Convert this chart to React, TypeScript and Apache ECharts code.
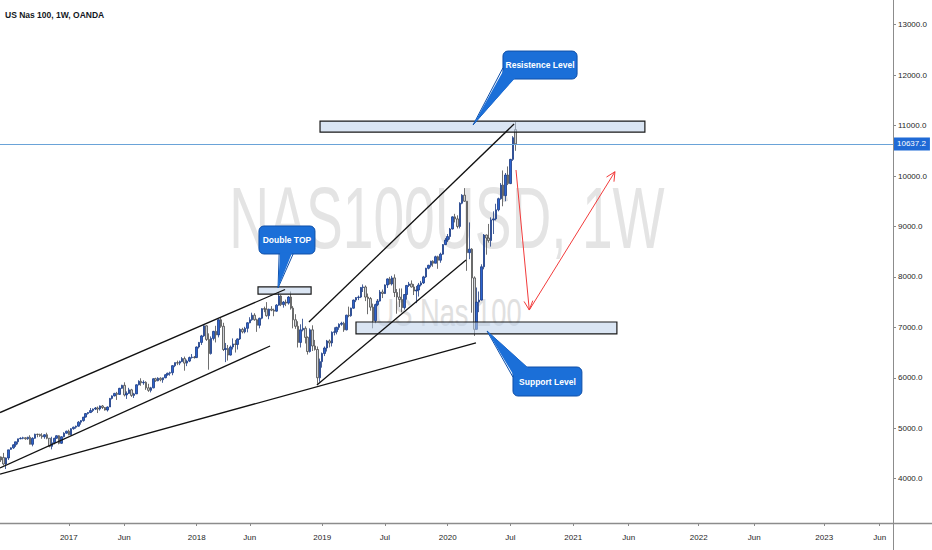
import { useEffect, useRef } from "react";
import * as echarts from "echarts";

// ---------- categories (weekly bars, Monday dates) ----------
const START_WEEK = Date.UTC(2016, 5, 13);
const WEEK_COUNT = 370;
const weekDates: string[] = Array.from({ length: WEEK_COUNT }, (_, i) =>
  new Date(START_WEEK + i * 7 * 86400000).toISOString().slice(0, 10)
);

// ---------- tick labels ----------
const tickWeekIndex = [28, 51, 81, 103, 133, 159, 185, 211, 237, 260, 289, 312, 341, 364];
const tickText = ["2017", "Jun", "2018", "Jun", "2019", "Jul", "2020", "Jul", "2021", "Jun", "2022", "Jun", "2023", "Jun"];
const priceTicks = [4000, 5000, 6000, 7000, 8000, 9000, 10000, 11000, 12000, 13000];
const lastPrice = 10637.2;

// ---------- weekly candles [open, close, low, high] ----------
const candles2016 = [
  [4430, 4370, 4330, 4440], [4420, 4290, 4260, 4510], [4290, 4410, 4190, 4420], [4410, 4570, 4370, 4570],
  [4580, 4610, 4570, 4620], [4610, 4670, 4590, 4680], [4670, 4730, 4630, 4730], [4730, 4790, 4680, 4790],
  [4790, 4800, 4780, 4820], [4800, 4810, 4780, 4830], [4810, 4790, 4770, 4820], [4790, 4820, 4770, 4830],
  [4820, 4680, 4680, 4860], [4680, 4800, 4640, 4820], [4800, 4880, 4790, 4890], [4880, 4875, 4820, 4890],
  [4875, 4850, 4830, 4890], [4850, 4830, 4790, 4900], [4830, 4870, 4790, 4880], [4870, 4800, 4780, 4910],
  [4800, 4640, 4620, 4800], [4640, 4710, 4580, 4830], [4710, 4800, 4680, 4810], [4800, 4850, 4790, 4860],
  [4850, 4700, 4680, 4860], [4700, 4830, 4690, 4840], [4830, 4900, 4820, 4920], [4900, 4940, 4890, 4950],
  [4940, 4870, 4860, 4970],
];
const candles2017 = [
  [4870, 4990, 4860, 5000], [4990, 5020, 4970, 5030], [5020, 5040, 4990, 5050], [5040, 5120, 5030, 5140],
  [5120, 5150, 5070, 5160], [5150, 5220, 5130, 5220], [5220, 5290, 5210, 5300], [5290, 5310, 5270, 5320],
  [5310, 5350, 5300, 5400], [5350, 5380, 5320, 5390], [5380, 5400, 5360, 5420], [5400, 5380, 5300, 5430],
  [5380, 5440, 5350, 5450], [5440, 5410, 5380, 5460], [5410, 5360, 5350, 5420], [5360, 5420, 5330, 5430],
  [5420, 5590, 5420, 5600], [5590, 5640, 5570, 5650], [5640, 5690, 5630, 5700], [5690, 5670, 5560, 5720],
  [5670, 5790, 5660, 5800], [5790, 5850, 5780, 5860], [5850, 5660, 5630, 5910], [5660, 5690, 5580, 5730],
  [5690, 5760, 5680, 5800], [5760, 5650, 5620, 5780], [5650, 5680, 5600, 5700], [5680, 5860, 5680, 5870],
  [5860, 5930, 5850, 5950], [5930, 5900, 5840, 5990], [5900, 5910, 5860, 5950], [5910, 5800, 5760, 5930],
  [5800, 5750, 5720, 5880], [5750, 5800, 5710, 5820], [5800, 5980, 5790, 5990], [5980, 5940, 5920, 6000],
  [5940, 5990, 5930, 6010], [5990, 5960, 5930, 6010], [5960, 6000, 5900, 6000], [6000, 6060, 5990, 6070],
  [6060, 6090, 6040, 6100], [6090, 6100, 6040, 6120], [6100, 6240, 6050, 6250], [6240, 6300, 6210, 6300],
  [6300, 6290, 6250, 6340], [6290, 6320, 6250, 6340], [6320, 6380, 6310, 6410], [6380, 6290, 6140, 6420],
  [6290, 6330, 6230, 6360], [6330, 6400, 6310, 6420], [6400, 6410, 6380, 6470], [6410, 6400, 6380, 6430],
];
const candles2018 = [
  [6400, 6610, 6390, 6620], [6610, 6700, 6580, 6710], [6700, 6830, 6650, 6850], [6830, 7030, 6810, 7040],
  [7030, 6760, 6730, 7040], [6760, 6480, 6160, 6880], [6480, 6780, 6460, 6820], [6780, 6920, 6740, 6930],
  [6920, 6850, 6700, 7030], [6850, 7150, 6800, 7160], [7150, 7020, 6990, 7190], [7020, 6560, 6530, 7090],
  [6560, 6580, 6310, 6690], [6580, 6450, 6340, 6650], [6450, 6610, 6440, 6640], [6610, 6670, 6560, 6780],
  [6670, 6660, 6500, 6750], [6660, 6770, 6560, 6780], [6770, 6960, 6750, 6980], [6960, 6910, 6880, 6990],
  [6910, 6980, 6880, 7010], [6980, 7090, 6900, 7100], [7090, 7150, 7080, 7200], [7150, 7240, 7130, 7290],
  [7240, 7150, 7130, 7280], [7150, 7040, 6910, 7170], [7040, 7180, 6980, 7190], [7180, 7370, 7160, 7380],
  [7370, 7360, 7300, 7410], [7360, 7230, 7210, 7500], [7230, 7360, 7160, 7370], [7360, 7340, 7320, 7420],
  [7340, 7320, 7220, 7370], [7320, 7440, 7310, 7460], [7440, 7620, 7430, 7700], [7620, 7450, 7420, 7640],
  [7450, 7500, 7390, 7520], [7500, 7480, 7420, 7550], [7480, 7600, 7450, 7620], [7600, 7380, 7350, 7710],
  [7380, 7150, 6980, 7420], [7150, 7020, 6970, 7260], [7020, 6700, 6600, 7120], [6700, 6950, 6600, 7060],
  [6950, 6980, 6920, 7170], [6980, 6800, 6680, 7020], [6800, 6520, 6460, 6820], [6520, 6950, 6500, 6980],
  [6950, 6630, 6530, 7040], [6630, 6560, 6540, 6750], [6560, 6000, 5880, 6620], [6000, 6320, 5920, 6380],
];
const candles2019 = [
  [6320, 6480, 6200, 6500], [6480, 6590, 6430, 6620], [6590, 6730, 6520, 6750], [6730, 6690, 6600, 6760],
  [6690, 6900, 6620, 6920], [6900, 6910, 6840, 7000], [6910, 7000, 6860, 7010], [7000, 7060, 6950, 7080],
  [7060, 7080, 7030, 7110], [7080, 6950, 6910, 7110], [6950, 7240, 6940, 7250], [7240, 7230, 7200, 7410],
  [7230, 7380, 7210, 7390], [7380, 7540, 7370, 7550], [7540, 7590, 7500, 7600], [7590, 7600, 7540, 7630],
  [7600, 7790, 7580, 7800], [7790, 7800, 7700, 7850], [7800, 7600, 7520, 7830], [7600, 7570, 7260, 7670],
  [7570, 7400, 7330, 7600], [7400, 7130, 6980, 7470], [7130, 7450, 7080, 7470], [7450, 7520, 7420, 7560],
  [7520, 7700, 7510, 7740], [7700, 7670, 7580, 7750], [7670, 7840, 7660, 7850], [7840, 7960, 7780, 7970],
  [7960, 7860, 7850, 8000], [7860, 7980, 7830, 8020], [7980, 7690, 7600, 8050], [7690, 7600, 7270, 7760],
  [7600, 7550, 7400, 7770], [7550, 7390, 7300, 7770], [7390, 7650, 7350, 7660], [7650, 7830, 7550, 7840],
  [7830, 7860, 7800, 7900], [7860, 7800, 7790, 7930], [7800, 7720, 7640, 7860], [7720, 7740, 7480, 7820],
  [7740, 7840, 7610, 7880], [7840, 7880, 7810, 7920], [7880, 8000, 7860, 8020], [8000, 8170, 7980, 8180],
  [8170, 8230, 8150, 8240], [8230, 8310, 8190, 8320], [8310, 8270, 8200, 8330], [8270, 8400, 8270, 8420],
  [8400, 8330, 8160, 8420], [8330, 8450, 8280, 8480], [8450, 8640, 8440, 8650], [8640, 8730, 8630, 8770],
];
const candles2020 = [
  [8730, 8800, 8690, 8850], [8800, 8950, 8740, 8970], [8950, 9190, 8940, 9200], [9190, 9150, 9080, 9250],
  [9150, 9000, 8960, 9220], [9000, 9460, 8960, 9480], [9460, 9620, 9440, 9640], [9620, 9500, 9490, 9760],
  [9500, 8480, 8120, 9500], [8480, 8550, 8350, 9080], [8550, 7980, 7290, 8570], [7980, 6960, 6830, 8010],
  [6960, 7500, 6950, 7790], [7500, 7540, 7300, 7710], [7540, 8200, 7530, 8250], [8200, 8830, 8150, 8850],
  [8830, 8770, 8440, 8840], [8770, 8720, 8680, 9050], [8720, 9130, 8600, 9180], [9130, 9150, 8850, 9300],
  [9150, 9330, 9120, 9450], [9330, 9550, 9300, 9570], [9550, 9820, 9530, 9860], [9820, 9610, 9400, 10110],
  [9610, 10020, 9500, 10060], [10020, 9850, 9820, 10190], [9850, 10330, 9840, 10340], [10330, 10760, 10300, 10790],
  [10920, 10637.2, 10500, 11070],
];
const candles = [...candles2016, ...candles2017, ...candles2018, ...candles2019, ...candles2020];

// ---------- drawings, in [week index, price] units ----------
const zoneBoxes = [
  [132.1, 11090, 266.7, 10870],
  [106.4, 7800, 128.4, 7660],
  [147.0, 7105, 255.1, 6868],
];
const trendLines = [
  [-0.5, 5310, 117.6, 7750],
  [-0.5, 4210, 111.4, 6630],
  [-0.5, 4090, 196.7, 6690],
  [130.8, 5856, 192.6, 8335],
  [127.5, 7105, 212.5, 11030],
];
const projectionArrows = [
  [213.3, 10119, 218.8, 7343],
  [218.8, 7343, 254.3, 10085],
];
const calloutBoxes = [
  [207.9, 12478, 238.6, 11923, 195.5, 11011, 0],
  [106.8, 9009, 130.0, 8454, 114.7, 7780, 1],
  [212.05, 6213, 240.6, 5638, 201.3, 6927, 2],
];
const calloutText = ["Resistence Level", "Double TOP", "Support Level"];
const calloutTails = [
  [[0, 0.6], [0.14, 1]],
  [[0.36, 1], [0.61, 1]],
  [[0, 0.35], [0.2, 0]],
];

const FONT = "'Liberation Sans', Arial, sans-serif";
const CALLOUT_FONT = "'Liberation Sans Narrow', 'Liberation Sans', Arial, sans-serif";
const CALLOUT_BLUE = "#1b6fd8";

function buildOption() {
  const tickMap = new Map<number, string>(tickWeekIndex.map((w, i) => [w, tickText[i]]));
  return {
    animation: false,
    backgroundColor: "#ffffff",
    grid: { left: 0, right: 39, top: 0, bottom: 27, containLabel: false, outerBoundsMode: "none" },
    xAxis: [
      {
        type: "category",
        data: weekDates,
        boundaryGap: true,
        axisLine: { show: false, onZero: false },
        axisTick: {
          show: true,
          alignWithLabel: true,
          length: 3,
          interval: (idx: number) => tickMap.has(idx),
          lineStyle: { color: "#8a8a8a" },
        },
        axisLabel: {
          interval: (idx: number) => tickMap.has(idx),
          formatter: (_v: string, idx: number) => tickMap.get(idx) || "",
          color: "#1e1e1e",
          fontSize: 8,
          fontFamily: FONT,
          margin: 10,
        },
        splitLine: { show: false },
      },
      { type: "value", min: -0.5, max: WEEK_COUNT - 0.5, show: false, axisLine: { onZero: false } },
    ],
    yAxis: {
      type: "value",
      position: "right",
      min: 3120,
      max: 13490,
      axisLine: { show: false, onZero: false },
      axisTick: { show: true, length: 3, customValues: priceTicks, lineStyle: { color: "#8a8a8a" } },
      axisLabel: {
        customValues: priceTicks,
        formatter: (v: number) => v.toFixed(1),
        color: "#1e1e1e",
        fontSize: 8,
        fontFamily: FONT,
        margin: 5,
      },
      splitLine: { show: false },
    },
    graphic: [
      {
        type: "text", x: 447, y: 218, scaleX: 0.627, z: 0, silent: true,
        style: { text: "NAS100USD, 1W", fontSize: 88, fontFamily: FONT, fill: "#e4e4e4", align: "center", textAlign: "center", verticalAlign: "middle", textVerticalAlign: "middle" },
      },
      {
        type: "text", x: 448, y: 313, scaleX: 0.7, z: 0, silent: true,
        style: { text: "US Nas 100", fontSize: 39, fontFamily: FONT, fill: "#e0e0e0", align: "center", textAlign: "center", verticalAlign: "middle", textVerticalAlign: "middle" },
      },
      {
        type: "text", x: 5, y: 15, z: 50,
        style: { text: "US Nas 100, 1W, OANDA", fontSize: 8.5, fontWeight: "bold", fontFamily: FONT, fill: "#131722", align: "left", textAlign: "left", verticalAlign: "middle", textVerticalAlign: "middle" },
      },
      { type: "line", z: 40, shape: { x1: 893.5, y1: 0, x2: 893.5, y2: 550 }, style: { stroke: "#8c8c8c", lineWidth: 1 } },
      { type: "line", z: 40, shape: { x1: 0, y1: 523.5, x2: 932, y2: 523.5 }, style: { stroke: "#8c8c8c", lineWidth: 1.5 } },
    ],
    series: [
      {
        type: "custom",
        name: "zones",
        xAxisIndex: 1,
        yAxisIndex: 0,
        z: 5,
        silent: true,
        data: zoneBoxes,
        renderItem: (_p: any, api: any) => {
          const a = api.coord([api.value(0), api.value(1)]);
          const b = api.coord([api.value(2), api.value(3)]);
          return {
            type: "rect",
            shape: { x: Math.min(a[0], b[0]), y: Math.min(a[1], b[1]), width: Math.abs(b[0] - a[0]), height: Math.abs(b[1] - a[1]) },
            style: { fill: "rgba(188,208,234,0.55)", stroke: "#1a1a1a", lineWidth: 1.2 },
          };
        },
      },
      {
        type: "candlestick",
        name: "NAS100USD",
        xAxisIndex: 0,
        yAxisIndex: 0,
        z: 3,
        barWidth: 2,
        data: candles,
        itemStyle: {
          color: "#2c63cf",
          color0: "#cfd2d8",
          borderColor: "#1b3a82",
          borderColor0: "#4a4a4a",
          borderWidth: 0.8,
        },
        markLine: {
          silent: true,
          symbol: ["none", "none"],
          data: [{ yAxis: lastPrice }],
          lineStyle: { color: "#6aa3d8", width: 1, type: "solid" },
          label: {
            show: true,
            position: "end",
            distance: 1,
            formatter: () => lastPrice.toFixed(1),
            color: "#ffffff",
            backgroundColor: "#1f6ad6",
            padding: [3, 4, 2, 3],
            fontSize: 8,
            fontFamily: FONT,
          },
        },
      },
      {
        type: "custom",
        name: "trend",
        xAxisIndex: 1,
        yAxisIndex: 0,
        z: 6,
        silent: true,
        data: trendLines,
        renderItem: (_p: any, api: any) => {
          const a = api.coord([api.value(0), api.value(1)]);
          const b = api.coord([api.value(2), api.value(3)]);
          return { type: "line", shape: { x1: a[0], y1: a[1], x2: b[0], y2: b[1] }, style: { stroke: "#111111", lineWidth: 1.3 } };
        },
      },
      {
        type: "custom",
        name: "projection",
        xAxisIndex: 1,
        yAxisIndex: 0,
        z: 6,
        silent: true,
        data: projectionArrows,
        renderItem: (_p: any, api: any) => {
          const a = api.coord([api.value(0), api.value(1)]);
          const b = api.coord([api.value(2), api.value(3)]);
          const dx = b[0] - a[0];
          const dy = b[1] - a[1];
          const len = Math.hypot(dx, dy) || 1;
          const ux = dx / len;
          const uy = dy / len;
          const L = 10;
          const ang = (26 * Math.PI) / 180;
          const rot = (s: number) => [
            b[0] - L * (ux * Math.cos(s * ang) - uy * Math.sin(s * ang)),
            b[1] - L * (uy * Math.cos(s * ang) + ux * Math.sin(s * ang)),
          ];
          const style = { stroke: "#f23b3b", lineWidth: 1, fill: "none" };
          return {
            type: "group",
            children: [
              { type: "line", shape: { x1: a[0], y1: a[1], x2: b[0], y2: b[1] }, style },
              { type: "polyline", shape: { points: [rot(1), b, rot(-1)] }, style },
            ],
          };
        },
      },
      {
        type: "custom",
        name: "callouts",
        xAxisIndex: 1,
        yAxisIndex: 0,
        z: 8,
        silent: true,
        data: calloutBoxes,
        renderItem: (_p: any, api: any) => {
          const a = api.coord([api.value(0), api.value(1)]);
          const b = api.coord([api.value(2), api.value(3)]);
          const t = api.coord([api.value(4), api.value(5)]);
          const li = api.value(6);
          const left = Math.min(a[0], b[0]);
          const top = Math.min(a[1], b[1]);
          const w = Math.abs(b[0] - a[0]);
          const h = Math.abs(b[1] - a[1]);
          const cx = left + w / 2;
          const cy = top + h / 2;
          const tail = calloutTails[li];
          const base = tail.map((f) => [left + w * f[0], top + h * f[1]]);
          const inner = base.map((p) => {
            const vx = cx - p[0];
            const vy = cy - p[1];
            const l = Math.hypot(vx, vy) || 1;
            return [p[0] + (vx / l) * 2, p[1] + (vy / l) * 2];
          });
          const stroke = "#0f4fa8";
          return {
            type: "group",
            children: [
              { type: "rect", shape: { x: left, y: top, width: w, height: h, r: 5 }, style: { fill: CALLOUT_BLUE, stroke, lineWidth: 1 } },
              { type: "polyline", shape: { points: [base[0], t, base[1]] }, style: { fill: "none", stroke, lineWidth: 1 } },
              { type: "polygon", shape: { points: [inner[0], t, inner[1]] }, style: { fill: CALLOUT_BLUE } },
              {
                type: "text",
                style: {
                  text: calloutText[li], x: cx, y: cy, fill: "#ffffff", fontSize: 8.5, fontWeight: "bold",
                  fontFamily: CALLOUT_FONT, align: "center", verticalAlign: "middle",
                },
              },
            ],
          };
        },
      },
    ],
  };
}

export default function App() {
  const ref = useRef<HTMLDivElement>(null);
  useEffect(() => {
    if (!ref.current) return;
    const chart = echarts.init(ref.current, null, { renderer: "svg" });
    chart.setOption(buildOption() as any);
    return () => chart.dispose();
  }, []);
  return (
    <div
      ref={ref}
      style={{ position: "absolute", left: 0, top: 0, width: 932, height: 550, background: "#ffffff" }}
    />
  );
}
